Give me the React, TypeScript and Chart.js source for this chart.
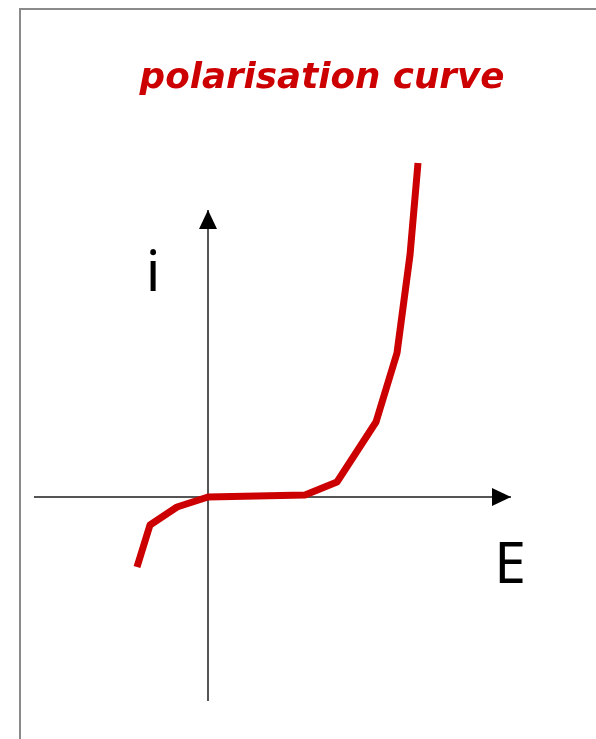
import React, { useEffect, useRef } from "react";
import { Chart, registerables } from "chart.js";

Chart.register(...registerables);

// Potential E (arbitrary units) and current i (arbitrary units) along the curve
const potentialE: number[] = [-0.71, -0.58, -0.31, 0, 0.97, 1.29, 1.68, 1.89, 2.02, 2.1];
const currentI: number[] = [-0.7, -0.28, -0.1, 0, 0.02, 0.15, 0.75, 1.44, 2.42, 3.34];

// Axis extents
const eRange: [number, number] = [-1.73, 3.02];
const iRange: [number, number] = [-2.03, 2.86];

const titleText = "polarisation curve";
const yLabel = "i";
const xLabel = "E";

const RED = "#cc0000";
const AXIS = "#555555";

const decorPlugin = {
  id: "decor",
  beforeDraw(chart: any) {
    const { ctx, width, height } = chart;
    ctx.save();
    ctx.fillStyle = "#ffffff";
    ctx.fillRect(0, 0, width, height);
    // page frame
    ctx.strokeStyle = "#8a8a8a";
    ctx.lineWidth = 2;
    ctx.beginPath();
    ctx.moveTo(20, height);
    ctx.lineTo(20, 9);
    ctx.lineTo(width, 9);
    ctx.stroke();
    ctx.restore();
  },
  afterDraw(chart: any) {
    const { ctx, chartArea } = chart;
    const xs = chart.scales.x;
    const ys = chart.scales.y;
    const x0 = xs.getPixelForValue(0);
    const y0 = ys.getPixelForValue(0);
    ctx.save();
    ctx.fillStyle = "#000000";
    // arrow on the i axis
    ctx.beginPath();
    ctx.moveTo(x0, chartArea.top - 1);
    ctx.lineTo(x0 - 9, chartArea.top + 18);
    ctx.lineTo(x0 + 9, chartArea.top + 18);
    ctx.closePath();
    ctx.fill();
    // arrow on the E axis
    ctx.beginPath();
    ctx.moveTo(chartArea.right + 1, y0);
    ctx.lineTo(chartArea.right - 18, y0 - 9);
    ctx.lineTo(chartArea.right - 18, y0 + 9);
    ctx.closePath();
    ctx.fill();

    // axis labels
    ctx.font = '57px "Noto Sans"';
    ctx.textAlign = "center";
    ctx.textBaseline = "alphabetic";
    ctx.fillText(yLabel, 153, 291);
    ctx.fillText(xLabel, 510, 583);

    // title
    ctx.fillStyle = RED;
    ctx.font = 'italic bold 36px "DejaVu Sans"';
    const w = ctx.measureText(titleText).width;
    const size = 36 * (365 / w);
    ctx.font = `italic bold ${size}px "DejaVu Sans"`;
    ctx.fillText(titleText, 322, 88);
    ctx.restore();
  },
};

export default function App() {
  const canvasRef = useRef<HTMLCanvasElement | null>(null);

  useEffect(() => {
    if (!canvasRef.current) return;
    const points = potentialE.map((e, k) => ({ x: e, y: currentI[k] }));
    const chart = new Chart(canvasRef.current, {
      type: "line",
      data: {
        datasets: [
          {
            data: points,
            borderColor: RED,
            borderWidth: 7,
            pointRadius: 0,
            tension: 0,
            fill: false,
            clip: false as any,
            borderCapStyle: "butt",
            borderJoinStyle: "round",
          },
        ],
      },
      options: {
        responsive: false,
        animation: false,
        layout: { padding: { left: 35, right: 86, top: 211, bottom: 39 } },
        plugins: {
          legend: { display: false },
          tooltip: { enabled: false },
          title: { display: false },
        },
        scales: {
          x: {
            type: "linear",
            min: eRange[0],
            max: eRange[1],
            position: { y: 0 } as any,
            grid: { display: false, drawTicks: false },
            ticks: { display: false },
            border: { display: true, color: AXIS, width: 2 },
          },
          y: {
            type: "linear",
            min: iRange[0],
            max: iRange[1],
            position: { x: 0 } as any,
            grid: { display: false, drawTicks: false },
            ticks: { display: false },
            border: { display: true, color: AXIS, width: 2 },
          },
        },
      },
      plugins: [decorPlugin],
    });
    return () => chart.destroy();
  }, []);

  return (
    <div style={{ position: "fixed", left: 0, top: 0, width: 596, height: 739, background: "#fff" }}>
      <canvas ref={canvasRef} width={596} height={739} />
    </div>
  );
}
